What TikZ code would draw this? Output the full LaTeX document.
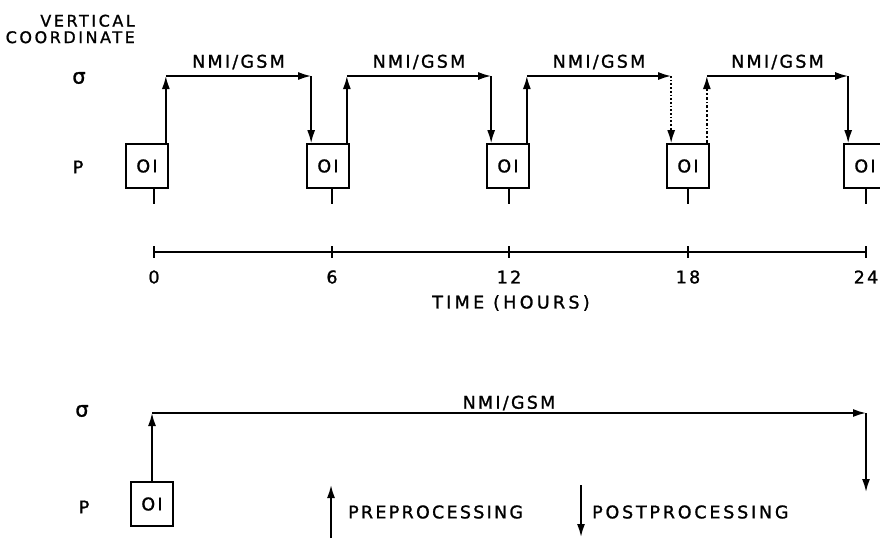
\documentclass[tikz,border=0pt]{standalone}
\usepackage{fontspec}
\setmainfont{DejaVu Sans}[LetterSpace=13,FakeBold=1.2]
\usetikzlibrary{arrows.meta}
\tikzset{obox/.style={draw,line width=1.7pt,minimum width=42pt,minimum height=44pt,inner sep=0pt}}
\begin{document}
\begin{tikzpicture}[x=1pt,y=-1pt,>={Latex[length=13pt,width=8pt]},line width=1.7pt,font=\fontsize{17.5}{18}\selectfont]
\useasboundingbox (0,0) rectangle (880,538);
\clip (0,0) rectangle (880,538);
% (a) four 6-hour cycles
\node[anchor=east,align=right,font=\fontsize{16}{16.5}\selectfont\addfontfeature{LetterSpace=16}] (vc) at (139,29) {VERTICAL\\COORDINATE};
\node[font=\fontsize{21}{22}\selectfont] (s1) at (79,78) {σ}; \node (p1) at (78,167) {P};
\coordinate (sig) at (0,76);
\foreach \n/\x/\t in {0/147/154,1/328/332,2/508/509,3/688/688,4/865/866} {
  \node[obox] (b\n) at (\x,166) {OI};
  \draw (\t,188) -- (\t,204);
}
\foreach \k/\j/\us/\ds in {0/1/solid/solid,1/2/solid/solid,2/3/solid/dotted,3/4/dash dot/solid} {
  \coordinate (up\k) at ([xshift=-3pt]b\k.north east);
  \coordinate (dn\j) at ([xshift=5pt]b\j.north west);
  \draw[->,\us] (up\k) -- (up\k |- sig) coordinate (c\k);
  \draw[->] (c\k) -- node[yshift=14pt] {NMI/GSM} (dn\j |- sig) coordinate (d\j);
  \draw[->,\ds] (d\j) -- (dn\j);
}
% time axis
\coordinate (a0) at (154,252); \coordinate (a24) at (866,252);
\draw[line width=1.4pt] (a0) -- (a24);
\foreach \h/\x in {0/154,6/332,12/509,18/688,24/866} {
  \draw[line width=1.4pt] (\x,246) -- (\x,258);
  \node (h\h) at (\x,277) {\h};
}
\node[font=\fontsize{17.5}{18}\selectfont\addfontfeature{LetterSpace=19}] (tm) at (511,303) {TIME (HOURS)};
% (b) one 24-hour run
\node[font=\fontsize{21}{22}\selectfont] (s2) at (82,411) {σ}; \node (p2) at (84,507) {P};
\node[obox] (bb) at (152,504) {OI};
\coordinate (sig2) at (0,413); \coordinate (e5) at (866,413); \coordinate (f5) at (866,492);
\draw[->] (bb.north) -- (bb.north |- sig2) coordinate (c5);
\draw[->] (c5) -- node[yshift=10pt] {NMI/GSM} (e5);
\draw[->] (e5) -- (f5);
% legend
\coordinate (pr0) at (331,538); \coordinate (pr1) at (331,485);
\coordinate (po0) at (581,485); \coordinate (po1) at (581,537);
\draw[->] (pr0) -- (pr1);
\draw[->] (po0) -- (po1);
\node[anchor=west] (pre) at (344,512) {PREPROCESSING};
\node[anchor=west,font=\fontsize{17.5}{18}\selectfont\addfontfeature{LetterSpace=16}] (post) at (588,512) {POSTPROCESSING};
\end{tikzpicture}
\end{document}
